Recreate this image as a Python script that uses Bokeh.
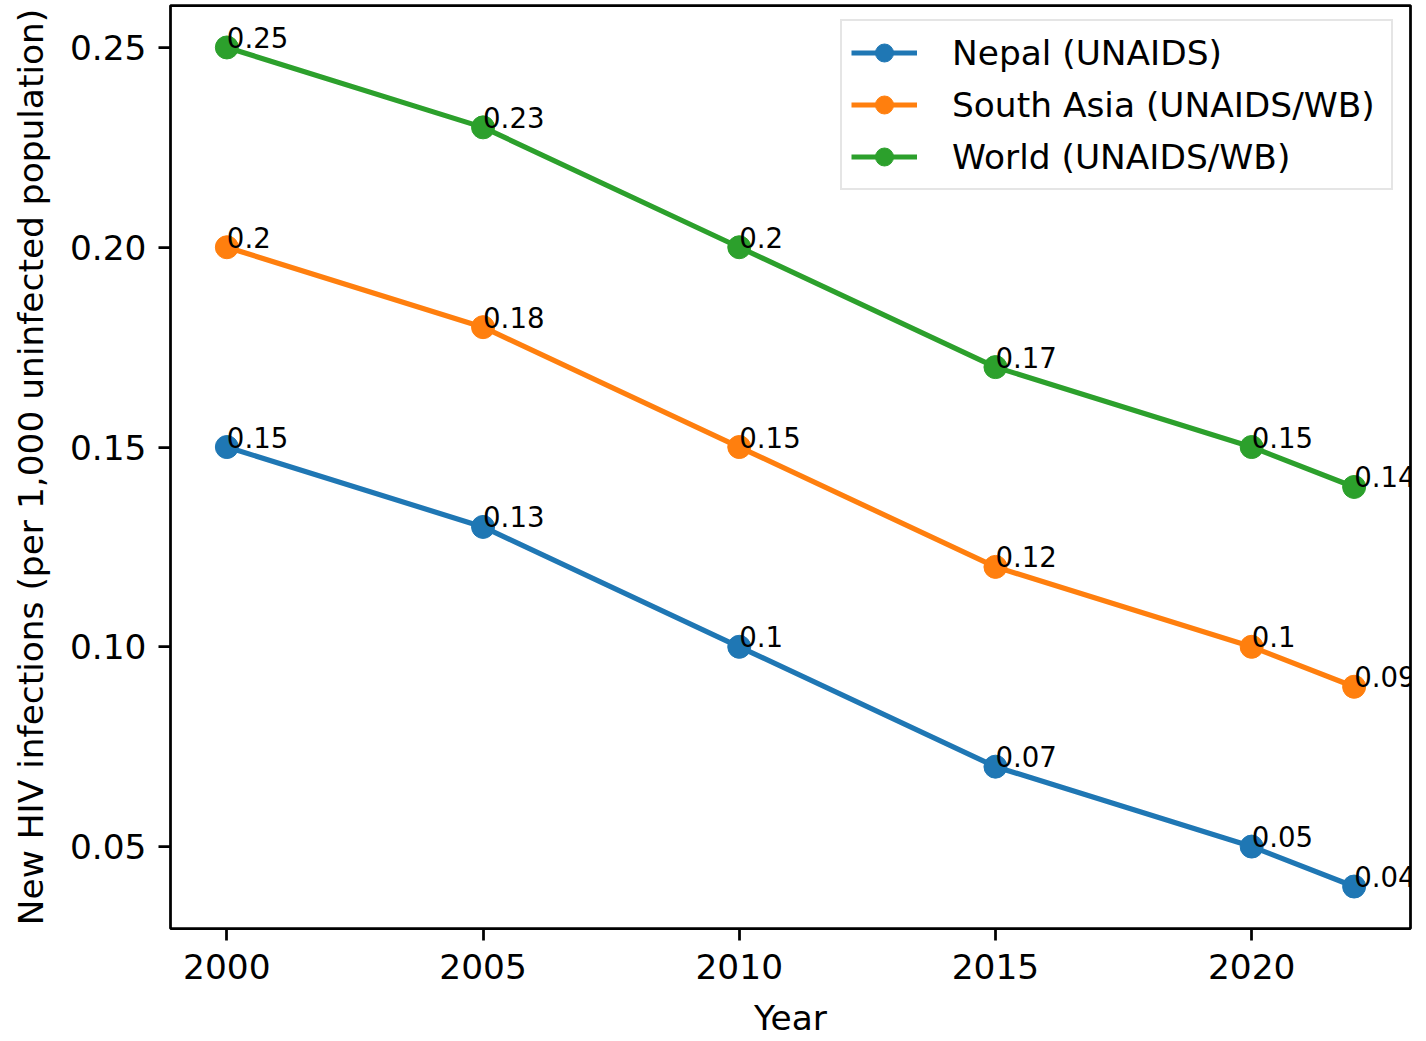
from bokeh.plotting import figure
from bokeh.models import Range1d, FixedTicker, Legend, ColumnDataSource
from bokeh.core.properties import value
from bokeh.embed import file_html
from bokeh.resources import INLINE

years = [2000, 2005, 2010, 2015, 2020, 2022]
nepal = [0.15, 0.13, 0.10, 0.07, 0.05, 0.04]
south_asia = [0.20, 0.18, 0.15, 0.12, 0.10, 0.09]
world = [0.25, 0.23, 0.20, 0.17, 0.15, 0.14]
series_names = ["Nepal (UNAIDS)", "South Asia (UNAIDS/WB)", "World (UNAIDS/WB)"]
colors = ["#1f77b4", "#ff7f0e", "#2ca02c"]
x_ticks = [2000, 2005, 2010, 2015, 2020]
y_ticks = [0.05, 0.10, 0.15, 0.20, 0.25]
y_tick_labels = ["0.05", "0.10", "0.15", "0.20", "0.25"]

FONT = "DejaVu Sans"

p = figure(width=1420, height=1040, output_backend="svg", toolbar_location=None,
           x_range=Range1d(1998.9, 2023.1), y_range=Range1d(0.0295, 0.2605),
           min_border_left=170, min_border_right=10, min_border_top=5, min_border_bottom=112)
p.background_fill_color = "white"
p.border_fill_color = "white"
p.outline_line_color = "black"
p.outline_line_width = 2.75
p.xgrid.visible = False
p.ygrid.visible = False

for ax in (p.xaxis[0], p.yaxis[0]):
    ax.axis_line_color = None
    ax.major_tick_line_width = 2.75
    ax.major_tick_line_color = "black"
    ax.major_tick_out = 12
    ax.major_tick_in = 0
    ax.minor_tick_line_color = None
    ax.major_label_text_font = FONT
    ax.major_label_text_font_size = "34.4px"
    ax.major_label_text_color = "black"
    ax.axis_label_text_font = FONT
    ax.axis_label_text_font_size = "34.4px"
    ax.axis_label_text_font_style = "normal"
    ax.axis_label_text_color = "black"

p.xaxis.ticker = FixedTicker(ticks=x_ticks)
p.yaxis.ticker = FixedTicker(ticks=y_ticks)
p.yaxis.major_label_overrides = {t: l for t, l in zip(y_ticks, y_tick_labels)}
p.xaxis.major_label_standoff = 13
p.yaxis.major_label_standoff = 12
p.xaxis.axis_label = "Year"
p.yaxis.axis_label = "New HIV infections (per 1,000 uninfected population)"
p.xaxis.axis_label_standoff = 16
p.yaxis.axis_label_standoff = 16

items = []
all_series = [nepal, south_asia, world]
for name, vals, c in zip(series_names, all_series, colors):
    src = ColumnDataSource(dict(x=years, y=vals))
    r1 = p.line("x", "y", source=src, line_color=c, line_width=5.2)
    r2 = p.scatter("x", "y", source=src, size=23, fill_color=c, line_color=c)
    items.append((name, [r1, r2]))

for vals in all_series:
    src = ColumnDataSource(dict(x=years, y=vals, t=[f"{v:g}" for v in vals]))
    p.text("x", "y", text="t", source=src, text_font=value(FONT), text_font_size="27.6px",
           text_align="left", text_baseline="alphabetic", text_color="black", y_offset=-10)

legend = Legend(items=items, location=(670, 738))
legend.label_text_font = FONT
legend.label_text_font_size = "34.4px"
legend.label_text_color = "black"
legend.glyph_width = 66
legend.glyph_height = 45
legend.label_height = 45
legend.label_width = 430
legend.label_standoff = 35
legend.spacing = 7
legend.padding = 9
legend.margin = 0
legend.border_line_color = "#cccccc"
legend.border_line_width = 2.75
legend.background_fill_color = "white"
legend.background_fill_alpha = 0.8
p.add_layout(legend)

open("out.html", "w").write(file_html(p, INLINE))
